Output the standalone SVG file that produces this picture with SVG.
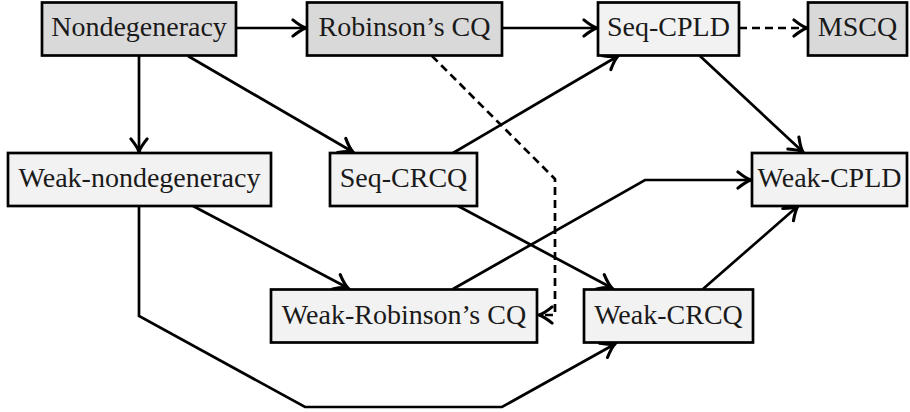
<svg xmlns="http://www.w3.org/2000/svg" width="910" height="412" viewBox="0 0 910 412">
<style>
.box{stroke:#000;stroke-width:2.7}
.dark{fill:#d9d9d9}
.light{fill:#f2f2f2}
.lbl{font-family:"Liberation Serif","Times New Roman",serif;font-size:28px;fill:#1a1a1a;text-anchor:middle}
.edge{fill:none;stroke:#000;stroke-width:2.7;stroke-linejoin:miter;marker-end:url(#arr)}
.dash{stroke-dasharray:8 5}
.head{fill:none;stroke:#000;stroke-width:2.5;stroke-linecap:round;stroke-dasharray:none}
</style>
<defs>
<marker id="arr" markerUnits="userSpaceOnUse" orient="auto" refX="0" refY="0" markerWidth="20" markerHeight="20" viewBox="-12 -8 14 16" overflow="visible">
<path class="head" d="M-10.5,-6.5 Q-4,-1.2 0,0 Q-4,1.2 -10.5,6.5"/>
</marker>
</defs>
<rect width="910" height="412" fill="#fff"/>
<g id="connectors">
<path class="edge" d="M236,28 L306,28"/>
<path class="edge" d="M502,28 L597,28"/>
<path class="edge dash" d="M739,28 L807,28"/>
<path class="edge" d="M139,55 L139,152"/>
<path class="edge" d="M188,56 L353,152"/>
<path class="edge dash" d="M432,56 L555,179 L555,315 L539,315"/>
<path class="edge" d="M453,153 L618,56"/>
<path class="edge" d="M700,56 L803,152"/>
<path class="edge" d="M453,289 L645,180 L751,180"/>
<path class="edge" d="M458,206 L612,288"/>
<path class="edge" d="M193,206 L348,288"/>
<path class="edge" d="M139,206 L139,316 L305,407 L502,407 L615,344"/>
<path class="edge" d="M703,289 L798,206"/>
</g>
<g id="nondegeneracy">
<rect class="box dark" x="42" y="2.5" width="194" height="53"/>
<text class="lbl" x="139" y="36">Nondegeneracy</text>
</g>
<g id="robinsons-cq">
<rect class="box dark" x="307" y="2.5" width="195" height="53"/>
<text class="lbl" x="404.5" y="36">Robinson’s CQ</text>
</g>
<g id="seq-cpld">
<rect class="box light" x="598" y="2.5" width="141" height="53"/>
<text class="lbl" x="668.5" y="36">Seq-CPLD</text>
</g>
<g id="mscq">
<rect class="box dark" x="808" y="2.5" width="99" height="53"/>
<text class="lbl" x="857.5" y="36">MSCQ</text>
</g>
<g id="weak-nondegeneracy">
<rect class="box light" x="8" y="153" width="263" height="53"/>
<text class="lbl" x="139.5" y="186.5">Weak-nondegeneracy</text>
</g>
<g id="seq-crcq">
<rect class="box light" x="330" y="153" width="147" height="53"/>
<text class="lbl" x="403.5" y="186.5">Seq-CRCQ</text>
</g>
<g id="weak-cpld">
<rect class="box light" x="752" y="153" width="155" height="53"/>
<text class="lbl" x="829.5" y="186.5">Weak-CPLD</text>
</g>
<g id="weak-robinsons-cq">
<rect class="box light" x="271" y="289.5" width="266" height="53"/>
<text class="lbl" x="404" y="323.5">Weak-Robinson’s CQ</text>
</g>
<g id="weak-crcq">
<rect class="box light" x="584" y="289.5" width="169" height="53"/>
<text class="lbl" x="668.5" y="323.5">Weak-CRCQ</text>
</g>
</svg>
